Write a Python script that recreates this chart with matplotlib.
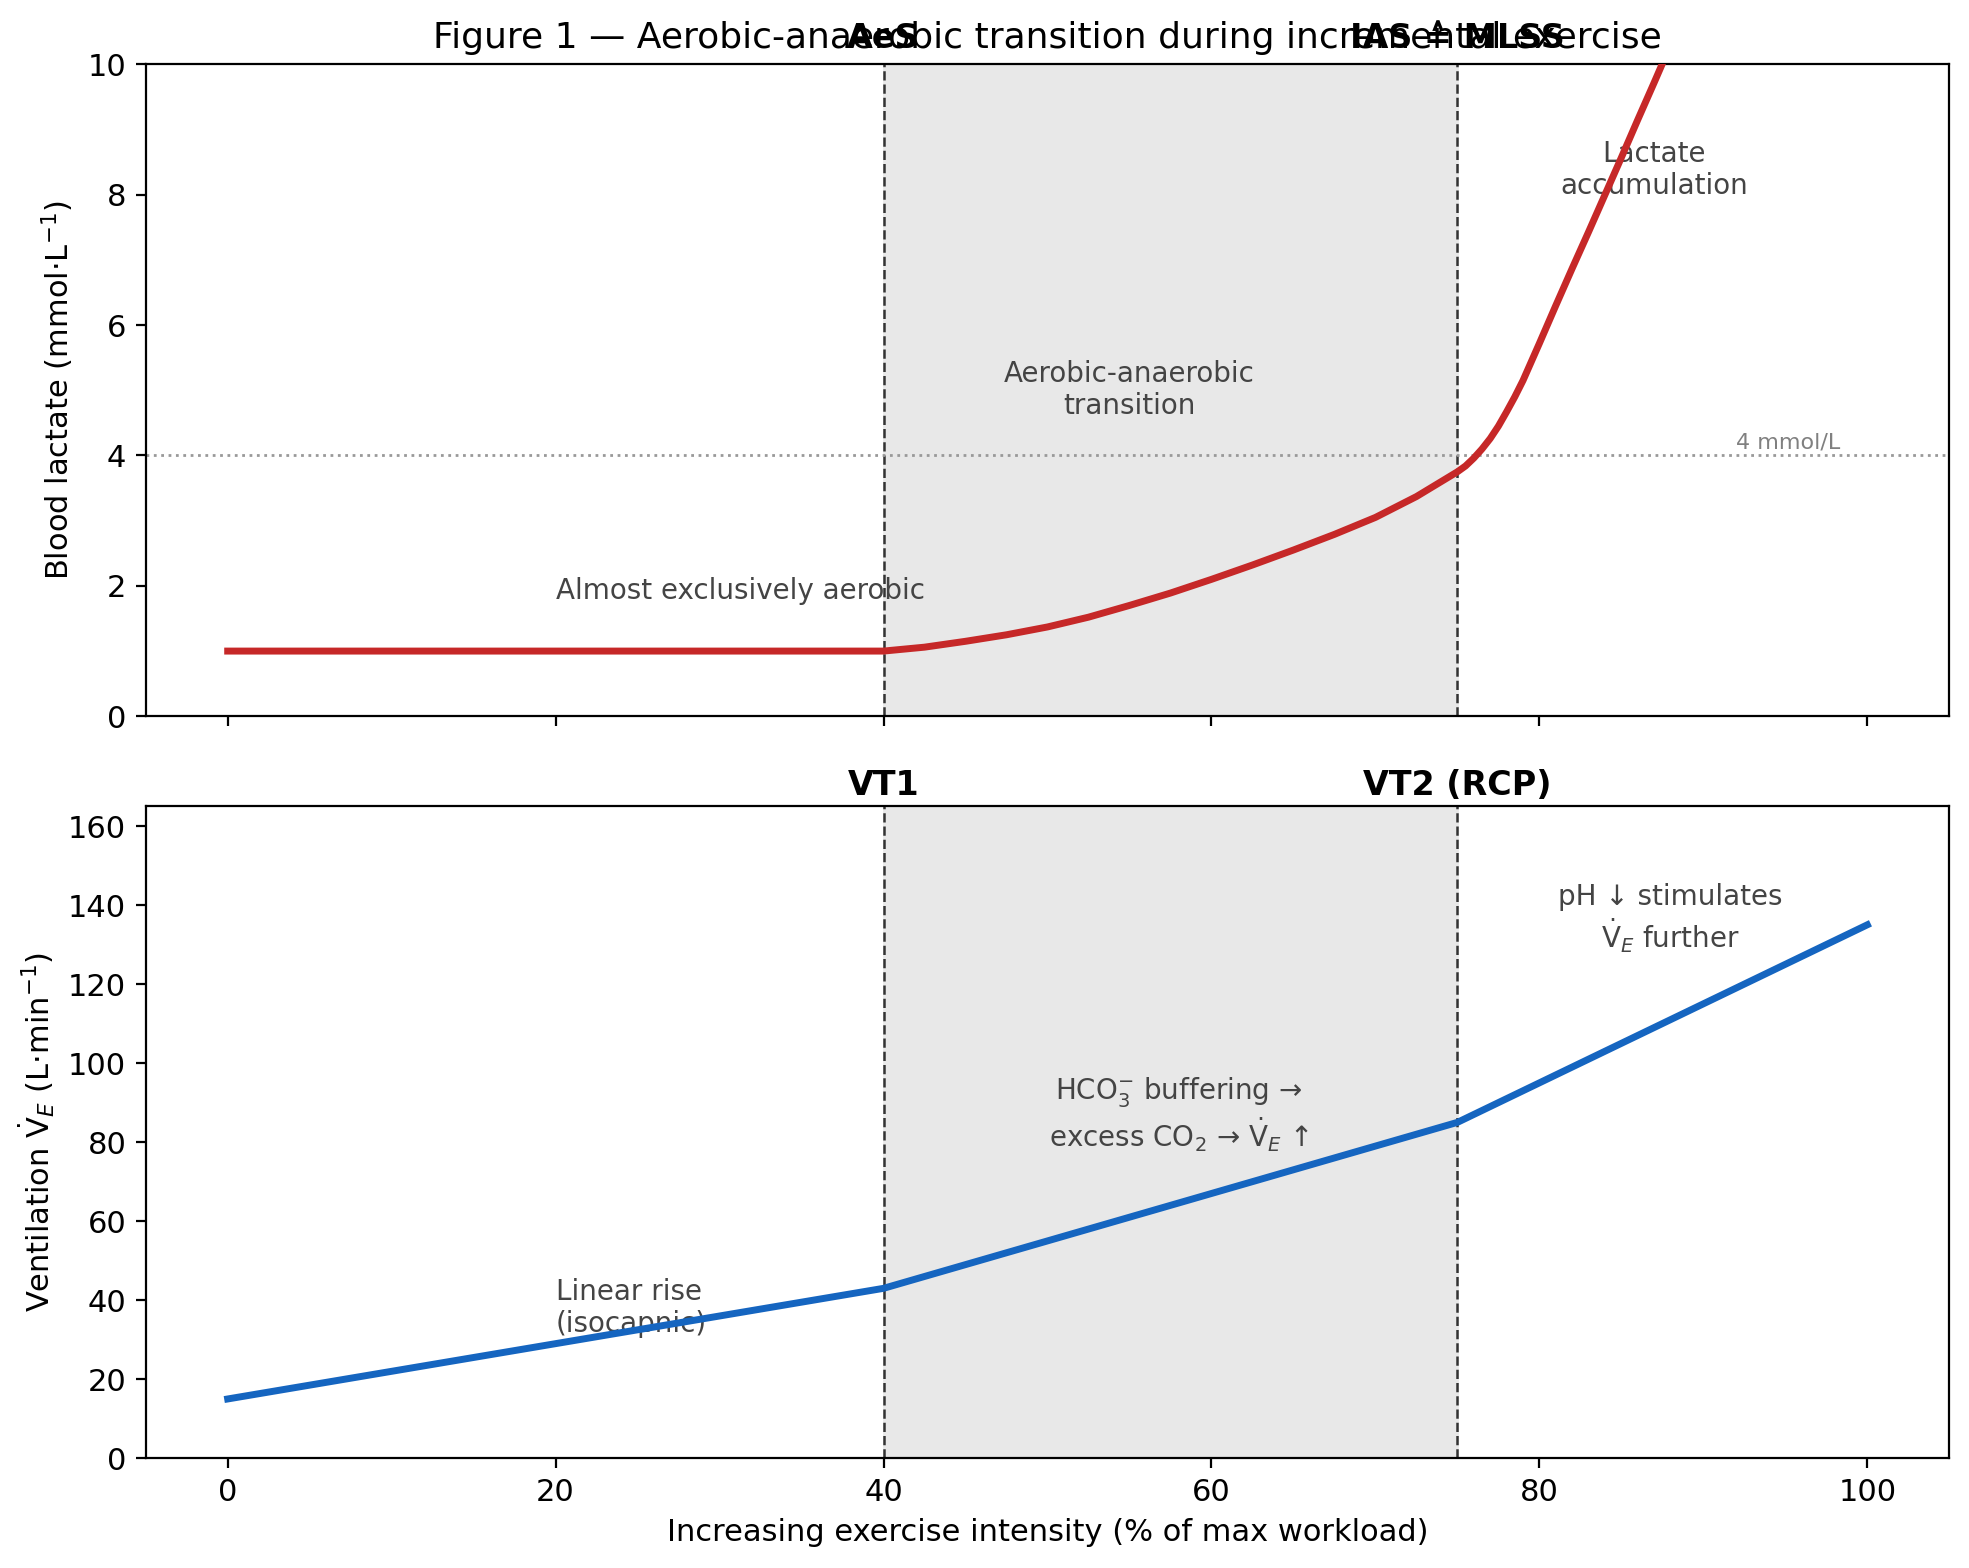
"""fig 1: aerobic-anaerobic transition, lactate (top) and ventilation (bottom)."""
import matplotlib
matplotlib.use("Agg")
import matplotlib.pyplot as plt
import matplotlib.transforms as mtransforms

# lactate curve (% max workload -> mmol/L)
LAC_X = [0, 10, 20, 30, 40, 42.5, 45, 47.5, 50, 52.5, 55, 57.5, 60, 62.5,
         65, 67.5, 70, 72.5, 75, 75.5, 76, 76.5, 77, 77.5, 78, 78.5, 79,
         80, 81, 82, 83, 84, 85, 86, 87, 88]
LAC_Y = [1.0, 1.0, 1.0, 1.0, 1.0, 1.06, 1.15, 1.25, 1.37, 1.52, 1.7, 1.89,
         2.1, 2.32, 2.55, 2.79, 3.05, 3.37, 3.75, 3.84, 3.96, 4.1, 4.26,
         4.45, 4.67, 4.9, 5.15, 5.72, 6.3, 6.87, 7.43, 8.0, 8.57, 9.15, 9.72, 10.3]

# ventilation (L/min)
VE_X = [0, 40, 75, 100]
VE_Y = [15, 43, 85, 135]

# thresholds
T1 = 40
T2 = 75
TOP_LABELS = ["AeS", "IAS \u2259 MLSS"]
BOT_LABELS = ["VT1", "VT2 (RCP)"]

RED = "#c62828"
BLUE = "#1565c0"
SHADE = "#e8e8e8"
NOTE = "#444444"


def addThresholds(ax, labels, yoff):
    ax.axvspan(T1, T2, color=SHADE, zorder=0)
    trans = mtransforms.blended_transform_factory(ax.transData, ax.transAxes)
    for xv, lab in zip([T1, T2], labels):
        ax.axvline(xv, color="#333333", linestyle="--", linewidth=0.9, zorder=1)
        ax.text(xv, yoff, lab, transform=trans, ha="center", va="bottom",
                fontsize=12, fontweight="bold")


fig, (ax1, ax2) = plt.subplots(2, 1, figsize=(9.845, 7.84), dpi=200, sharex=True)
fig.subplots_adjust(left=0.074, right=0.99, top=0.959, bottom=0.070, hspace=0.138)

# --- top: lactate
addThresholds(ax1, TOP_LABELS, 1.014)
ax1.axhline(4, color="#999999", linestyle=":", linewidth=1.0, zorder=1)
ax1.text(92, 4.05, "4 mmol/L", fontsize=8, color="#808080", va="bottom")
ax1.text(20, 1.8, "Almost exclusively aerobic", fontsize=10, color=NOTE)
ax1.text(55, 5.0, "Aerobic-anaerobic\ntransition", fontsize=10, color=NOTE,
         ha="center", va="center")
ax1.text(87, 8.38, "Lactate\naccumulation", fontsize=10, color=NOTE,
         ha="center", va="center")
ax1.plot(LAC_X, LAC_Y, color=RED, linewidth=2.5, zorder=4)
ax1.set_ylim(0, 10)
ax1.set_ylabel("Blood lactate (mmol\u00b7L$^{-1}$)", fontsize=11)
ax1.set_title("Figure 1 \u2014 Aerobic-anaerobic transition during incremental exercise",
              fontsize=13)

# --- bottom: ventilation
VDOT = "$\\dot{\\mathrm{V}}_E$"
addThresholds(ax2, BOT_LABELS, 1.006)
ax2.text(20, 38, "Linear rise\n(isocapnic)", fontsize=10, color=NOTE, va="center")
ax2.text(58, 87, "HCO$_3^{-}$ buffering \u2192\nexcess CO$_2$ \u2192 " + VDOT + " \u2191",
         fontsize=10, color=NOTE, ha="center", va="center")
ax2.text(88, 136.5, "pH \u2193 stimulates\n" + VDOT + " further", fontsize=10,
         color=NOTE, ha="center", va="center")
ax2.plot(VE_X, VE_Y, color=BLUE, linewidth=2.5, zorder=4)
ax2.set_ylim(0, 165)
ax2.set_xlim(-5, 105)
ax2.set_xticks([0, 20, 40, 60, 80, 100])
ax2.set_ylabel("Ventilation " + VDOT + " (L\u00b7min$^{-1}$)", fontsize=11)
ax2.set_xlabel("Increasing exercise intensity (% of max workload)", fontsize=11)

for ax in (ax1, ax2):
    ax.tick_params(labelsize=11)

fig.savefig("out.png", dpi=200)
